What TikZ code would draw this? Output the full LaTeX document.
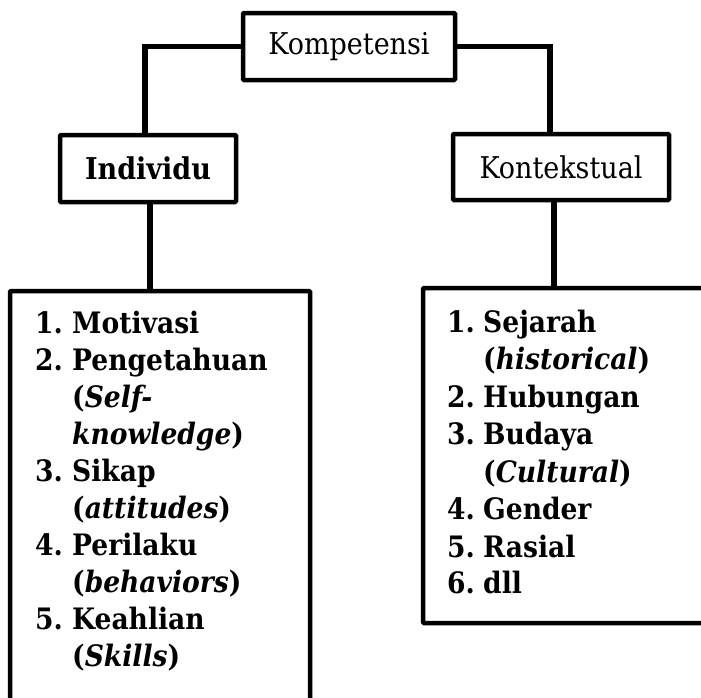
\documentclass[tikz,border=0pt]{standalone}
\usepackage{fontspec}
\setmainfont{DejaVu Serif Condensed}
\begin{document}
\begin{tikzpicture}[x=1pt,y=-1pt,
  hbox/.style={draw=black, line width=4.5pt, fill=white, inner sep=0pt, rounded corners=1pt},
  conn/.style={line width=5.5pt, line join=miter},
  big/.style={draw=black, line width=4.5pt, rounded corners=1pt},
  num/.style={anchor=base west, inner sep=0pt, font=\fontsize{29.5}{37}\selectfont\bfseries},
  item/.style={anchor=base west, inner sep=0pt, font=\fontsize{29.5}{37}\selectfont\bfseries}]
\useasboundingbox (0,0) rectangle (701,697);
\begin{scope}
\clip (0,0) rectangle (701,697);
% big boxes
\draw[big] (10,291) rectangle (310,740);
\draw[big] (423,288) rectangle (760,623);
\coordinate (LT) at (150,291);
\coordinate (RT) at (554,288);
% header boxes
\node[hbox, minimum width=212pt, minimum height=67pt, font=\fontsize{30}{37}\selectfont] (komp) at (349,46.5) {Kompetensi};
\node[hbox, minimum width=176pt, minimum height=67pt, font=\fontsize{30}{37}\selectfont\bfseries] (ind) at (148,168.5) {Individu};
\node[hbox, minimum width=216pt, minimum height=66pt, font=\fontsize{30}{37}\selectfont] (kon) at (561,167) {Kontekstual};
% connectors
\draw[conn] (komp.west) -- (145,46.5) -- (ind.north -| 145,0);
\draw[conn] (komp.east) -- (550,46.5) -- (kon.north -| 550,0);
\draw[conn] (ind.south -| LT) -- (LT);
\draw[conn] (kon.south -| RT) -- (RT);
% left list
\node[num] (ln1) at (35,333) {1.};
\node[item] (li1) at (72,333) {Motivasi};
\node[num] (ln2) at (35,370) {2.};
\node[item] (li2) at (72,370) {Pengetahuan};
\node[item] (li2a) at (72,407) {(\textit{Self-}};
\node[item] (li2b) at (72,444) {\textit{knowledge})};
\node[num] (ln3) at (35,481) {3.};
\node[item] (li3) at (72,481) {Sikap};
\node[item] (li3a) at (72,518) {(\textit{attitudes})};
\node[num] (ln4) at (35,555) {4.};
\node[item] (li4) at (72,555) {Perilaku};
\node[item] (li4a) at (72,592) {(\textit{behaviors})};
\node[num] (ln5) at (35,629) {5.};
\node[item] (li5) at (72,629) {Keahlian};
\node[item] (li5a) at (72,666) {(\textit{Skills})};
% right list
\node[num] (rn1) at (447,332) {1.};
\node[item] (ri1) at (483,332) {Sejarah};
\node[item] (ri1a) at (483,369.5) {(\textit{historical})};
\node[num] (rn2) at (447,407) {2.};
\node[item] (ri2) at (483,407) {Hubungan};
\node[num] (rn3) at (447,444.5) {3.};
\node[item] (ri3) at (483,444.5) {Budaya};
\node[item] (ri3a) at (483,482) {(\textit{Cultural})};
\node[num] (rn4) at (447,519.5) {4.};
\node[item] (ri4) at (483,519.5) {Gender};
\node[num] (rn5) at (447,557) {5.};
\node[item] (ri5) at (483,557) {Rasial};
\node[num] (rn6) at (447,593) {6.};
\node[item] (ri6) at (483,593) {dll};
\end{scope}
\end{tikzpicture}
\end{document}
